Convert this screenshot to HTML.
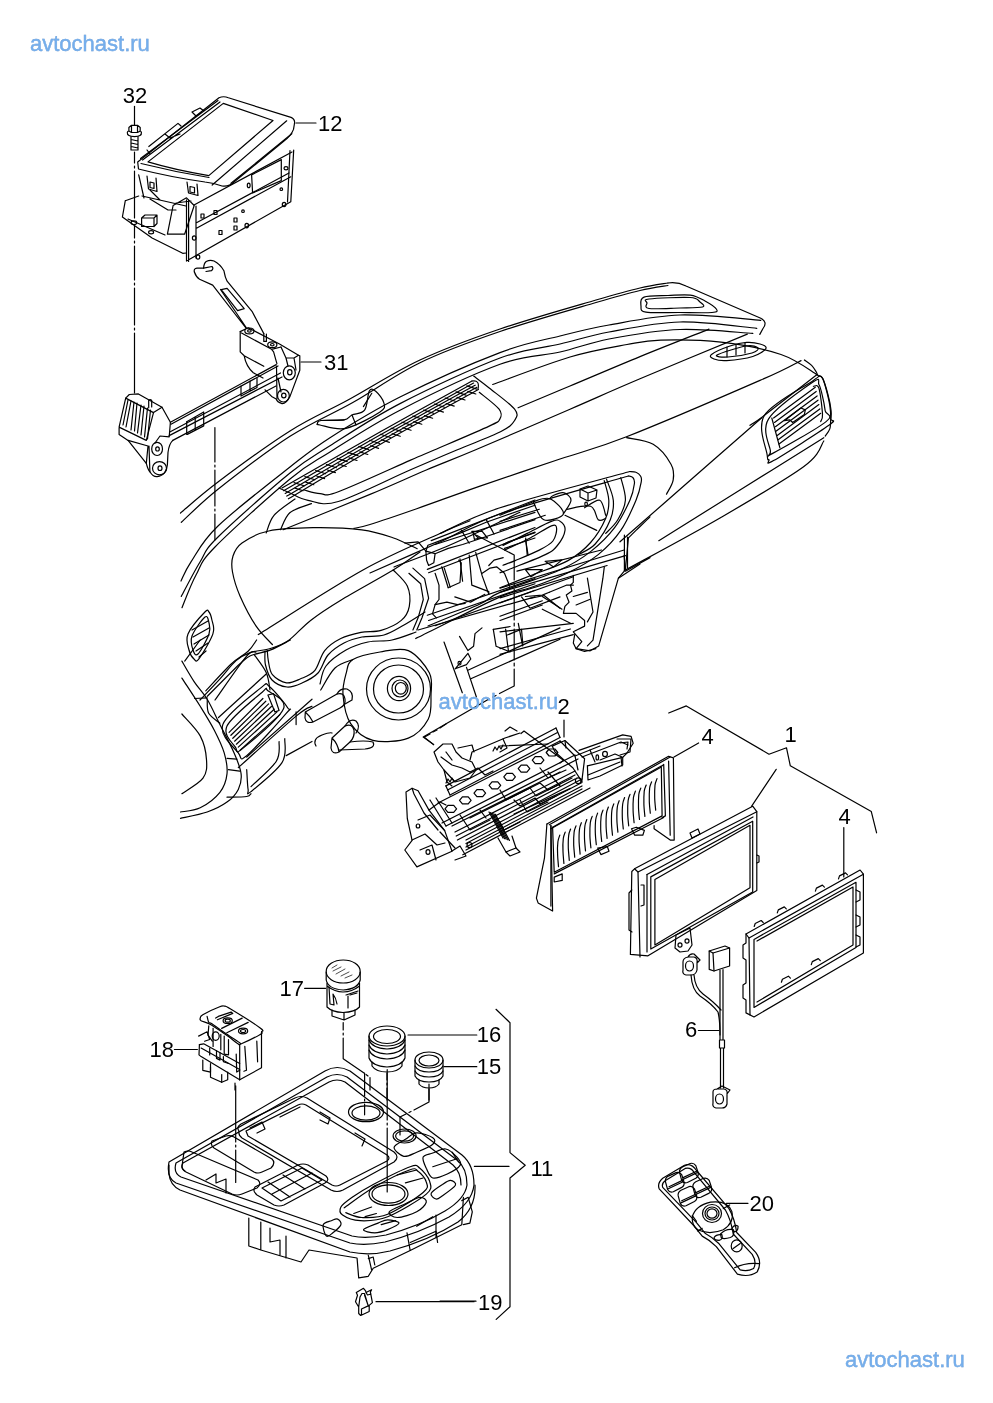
<!DOCTYPE html>
<html><head><meta charset="utf-8">
<style>
html,body{margin:0;padding:0;background:#fff;width:993px;height:1403px;overflow:hidden}
svg{position:absolute;left:0;top:0;will-change:transform}
.wm{font-family:"Liberation Sans",sans-serif;font-size:22px;fill:#74aeec;stroke:#4a80c4;stroke-width:0.35px;paint-order:stroke}
.lb{font-family:"Liberation Sans",sans-serif;font-size:22px;fill:#000}
</style></head><body>
<svg width="993" height="1403" viewBox="0 0 993 1403">
<g fill="none" stroke="#000" stroke-width="1.2" stroke-linejoin="round" stroke-linecap="round">
<path d="M296,123 H316 M301,362 H321 M564,720 V737 M698.6,743 L674,757 M843.8,827.5 V877 M304.6,988.3 H325.6 M174.4,1049.5 H197.4 M408,1035 H476.8 M444,1066.7 H476.8 M698.4,1030.5 H718.8 M474.4,1166.4 H509 M440,1301.2 H476 M726.4,1203.3 H748"/>
<path d="M668.7,713 L686.3,705.9 L769,754.2 L786.5,747.8 L790.3,765.8 L871.3,811.6 L876.6,832.8 M776.2,769.3 L751.5,806.3"/>
<!-- component 12 -->
<path d="M137.7,162 L219,97.7 Q223.5,95.8 228.4,97.7 L291,117.4 Q295.5,119.5 294.4,124 L293.5,129.4 Q291,136 284,141 L234,182 Q229,187 222,186 Q214,183 205,182 Q170,177 138.5,169 Z"/>
<path d="M148,161.9 L223.3,103.4 L273,120.5 L208.8,175.6 Q175,170 148,161.9"/>
<path d="M141,163.5 Q175,172 209,177.5 M212.2,185 L286.7,120.8 M231,183.3 L291.8,133.7"/>
<path d="M140.5,158.5 L218,100.5 M142.5,160 L220,102 M148.8,146.5 L178,123.4 L181,126 M165,134 L170,138 L180,134 M192,112 L200,108 L204,111 L196,116 Z M147,150 L150,154"/>
<path d="M138.7,174.9 L144,198 M186.5,199.8 V261 M188.6,200 V261.5 M186.5,261 L290.8,201.7 M293.7,150 L290.8,201.7 M290,150.5 L287.5,202"/>
<path d="M196,228.5 L290.8,176.8 M196,223 L289,173 M194,205 L292,152 M196,206 V258"/>
<path d="M251.6,174.9 L281.3,159.6 V180.6 L252.6,193 Z"/>
<path d="M173.1,205.5 L186.5,197.8 L194.2,205.5 L184.6,234.2 L167.4,234.2 Z M173.1,205.5 L167.4,234.2 M176,203 L191,201"/>
<path d="M125.3,200.7 L138.7,196 M122.4,217 L125.3,200.7 M122.4,217 L152.1,238 L182.7,253.3 L186.5,253 M128,219 L165,235"/>
<path d="M141.6,218 H154 V226.5 H141.6 Z M141.6,218 L145,215 H157 L154,218 M157,215 V223.5 L154,226.5"/>
<path d="M142,196 L186,206 M150,190 L160,200 M150,199 L168,210 L176,210"/>
<path d="M147,176 L148.5,189 L157,191.5 L156,178 M150,182 L154,183 V188.5 L150,187.5 Z M187,182 L188.5,193 L198,195.5 L197,184 M190,186.5 L194.5,187.5 V193 L190,192 Z"/>
<ellipse cx="133.9" cy="222.7" rx="2.8" ry="1.8"/>
<ellipse cx="151.1" cy="232.3" rx="2.5" ry="1.6"/>
<path d="M201,214 h3 v4 h-3z M214,210.5 h3 v4 h-3z M234,218 h3 v4 h-3z M234,226 h3 v4 h-3z M219,230.5 h3 v4 h-3z"/>
<ellipse cx="243" cy="211.2" rx="1.3" ry="1.3"/><ellipse cx="194.2" cy="238" rx="1.8" ry="2.2"/><ellipse cx="246.8" cy="225.6" rx="1.8" ry="2.2"/><ellipse cx="284.1" cy="204.5" rx="1.8" ry="2.2"/><ellipse cx="286" cy="168.2" rx="2" ry="1.6"/><ellipse cx="248.7" cy="185.4" rx="1.4" ry="2.2"/><ellipse cx="281.3" cy="189.2" rx="1.3" ry="1.3"/><ellipse cx="198" cy="257" rx="1.8" ry="2.2"/>
<!-- bolt 32 -->
<path d="M134.5,106.4 V125"/>
<path d="M128.9,127.5 L131.5,125.3 H137.5 L140.2,127.5 V131 L137.5,132.5 H131.5 L128.9,131 Z M131.5,125.3 V132.5 M137.5,125.3 V132.5 M127.3,132.5 Q127,136.4 134.5,136.6 Q142,136.4 141.4,132.5 Q141,131 140.2,131 M127.3,132.5 Q127.5,131 128.9,131"/>
<path d="M131,136.6 V150 H138 V136.6 M131,139.5 L138,141 M131,143 L138,144.5 M131,146.5 L138,148"/>
<path d="M134.5,152 V163 M134.5,166 V168 M134.5,171 V218 M134.5,226 V238 M134.5,241 V243 M134.5,246 V280 M134.5,283 V285 M134.5,288 V325 M134.5,328 V330 M134.5,333 V393"/>
<!-- wrench + bracket 31 -->
<path d="M194.4,272 Q193.5,268.5 197,268.1 L203.6,268.1 Q204,263 206.2,261.5 Q210,259.5 214,261 Q220,264 223.9,270.7 L224.5,273.3 Q225,277 227.1,281.2 L252,311.3 L263.8,333.6"/>
<path d="M203.6,268.1 L212,266.5 Q214,268.5 211.4,270.7 L206,271.5"/>
<path d="M194.4,272 Q196,277 199.6,279.2 L212.7,285.1 L245.5,327.5 M220.5,289.5 L246.5,328"/>
<path d="M221.2,289.7 L227.1,288.4 L244.2,308.7 L237.6,310.6 Z"/>
<path d="M240.2,331.6 L248.1,327.7 L279.5,344 L298.5,355.2 L299.8,355.8 V370.2 L290,396.4 Q286,404 282,403.6 Q277,402 276.2,399 L271.6,396.4 L265.1,389.8"/>
<path d="M240.2,331.6 V351.9 L244.2,355.8 L263.8,366.3 M244.2,355.8 Q246,366 253.3,372.8 L263,378 M241.5,333 L271.6,349.3 L281,347 M273.6,351.9 L276.9,363.7 M271.6,349.3 L273.6,351.9"/>
<path d="M281,347 L286,358 L288,366 M298.5,355.2 L294,358 L296,370 M286,358 L294,358"/>
<ellipse cx="249.4" cy="330.9" rx="4.6" ry="2.9"/><ellipse cx="249.4" cy="330.9" rx="1.8" ry="1.2"/>
<ellipse cx="272.3" cy="344.7" rx="4.6" ry="2.9"/><ellipse cx="272.3" cy="344.7" rx="1.8" ry="1.2"/>
<path d="M263.8,333.6 V341.4 H266.4 V334"/>
<ellipse cx="289.3" cy="372.8" rx="6" ry="7"/><ellipse cx="289.8" cy="372.3" rx="2.2" ry="2.6"/>
<ellipse cx="283.4" cy="395.7" rx="5.9" ry="6.3"/><ellipse cx="283.8" cy="395.5" rx="2.2" ry="2.4"/>
<path d="M278,378 L281,392 M276.5,366 L277,399"/>
<path d="M170.4,422.3 L276.2,364.6 M171,424.3 L278,366 M169.8,432 L280.5,373 M169.2,435.6 L282,377 M172.8,440.4 L276,386"/>
<path d="M186.7,421.7 L203.7,412 M187.3,434.4 L203.7,425.9 M186.7,421.7 V434.4 M203.7,412 V425.9 M195.2,417 V430 M241,396 V386 M250,391 V381 M257,387.5 V378 M241,396 L257,387.5"/>
<path d="M125.7,398.1 L129.3,394.5 L138.4,393.9 L162,407.2 L153.5,412.6 Z"/>
<path d="M125.7,398.1 L119.1,427.1 L119.1,434.4 L128.1,440.4 L146.3,463.4 Q148,470 149.9,471.8 Q153,477 157.1,476.7 Q162,476 164.4,473 Q167,470 167.4,464.6 L168,452.5 Q169,444 172.8,440.4 M119.1,427.1 L146.3,440.4 L153.5,412.6 M162,407.2 L170.4,422.3 L169.2,436.8 L160,436 L155,443"/>
<path d="M128,400 L123,425 M131,401 L126,427 M134,402 L131,430 M137,403 L134.5,431 M141,405 L137.5,433 M144,406 L141,435 M147.5,408 L144.5,437 M150.5,410 L147.5,439"/>
<path d="M128.1,440.4 L148,446 L146.3,463.4 M149,446 L149.9,471.8"/>
<ellipse cx="157.1" cy="448.9" rx="5.4" ry="6.6"/><ellipse cx="157.5" cy="448.9" rx="1.8" ry="2.1"/>
<ellipse cx="159.5" cy="468.2" rx="7" ry="6.6"/><ellipse cx="160" cy="468.2" rx="2" ry="2.3"/>
<path d="M148.7,407.8 V400.5 Q150.2,399 151.7,400.5 V407"/>
<path d="M214.9,427.5 V462 M214.9,465 V467 M214.9,470 V506 M214.9,509 V511 M214.9,514 V540"/>
<path d="M180.5,513.0 C186.8,507.8 199.8,495.7 218.0,482.0 C236.2,468.3 268.3,444.7 290.0,431.0 C311.7,417.3 326.3,411.8 348.0,400.0 C369.7,388.2 394.7,371.8 420.0,360.0 C445.3,348.2 470.7,339.0 500.0,329.0 C529.3,319.0 572.7,306.8 596.0,300.0 C619.3,293.2 628.0,290.8 640.0,288.0 C652.0,285.2 663.3,283.8 668.0,283.0"/>
<path d="M181.3,522.3 C187.5,516.8 200.2,503.3 218.3,489.0 C236.4,474.7 267.6,450.7 290.0,436.3 C312.4,421.9 331.1,414.8 352.8,402.5 C374.5,390.2 395.5,374.5 420.0,362.7 C444.5,350.9 470.7,341.5 500.0,331.5 C529.3,321.5 572.7,309.3 596.0,302.5 C619.3,295.7 628.0,293.3 640.0,290.5 C652.0,287.7 663.3,286.3 668.0,285.5"/>
<path d="M668,283 Q677,281.5 686,286 L760.8,318.3 Q768,322 763,328.5 L759.8,334.4"/>
<path d="M644.0,297.1 C648.5,295.4 660.3,295.8 668.0,295.5 C675.7,295.2 684.2,294.2 690.4,295.1 C696.6,296.0 700.6,298.6 705.0,301.0 C709.4,303.4 715.3,307.3 716.5,309.2 C717.7,311.1 718.1,311.9 712.0,312.5 C705.9,313.1 691.0,312.6 680.0,312.5 C669.0,312.4 652.5,313.3 646.0,312.2 C639.5,311.1 641.3,308.5 641.0,306.0 C640.7,303.5 639.5,298.9 644.0,297.1Z"/>
<path d="M649.0,299.0 C656.2,298.1 681.5,297.0 690.0,297.5 C698.5,298.0 697.9,300.4 700.0,302.0 C702.1,303.6 705.8,306.0 702.5,307.0 C699.2,308.0 688.9,307.8 680.0,308.0 C671.1,308.2 654.5,309.3 649.0,308.5 C643.5,307.7 647.0,304.6 647.0,303.0 C647.0,301.4 641.8,299.9 649.0,299.0Z"/>
<path d="M181.0,581.0 C182.7,577.8 184.8,571.0 191.0,561.8 C197.2,552.6 201.5,541.8 218.0,526.0 C234.5,510.2 271.3,481.7 290.0,467.0 C308.7,452.3 311.7,449.4 330.0,437.7 C348.3,426.0 371.7,411.2 400.0,397.0 C428.3,382.8 473.3,362.8 500.0,352.6 C526.7,342.4 541.8,340.6 560.0,336.0 C578.2,331.4 589.0,328.5 609.0,325.0 C629.0,321.5 654.7,315.8 680.0,315.0 C705.3,314.2 747.3,319.4 760.8,320.3"/>
<path d="M181.3,596.4 C184.4,590.7 193.9,571.9 200.0,562.0 C206.1,552.1 203.0,551.8 218.0,537.0 C233.0,522.2 271.3,488.2 290.0,473.0 C308.7,457.8 311.7,457.4 330.0,445.8 C348.3,434.2 371.7,418.2 400.0,403.6 C428.3,389.0 473.3,367.9 500.0,358.0 C526.7,348.1 541.8,348.3 560.0,344.0 C578.2,339.7 589.0,335.7 609.0,332.0 C629.0,328.3 655.4,322.6 680.0,322.0 C704.6,321.4 744.0,327.2 756.8,328.3"/>
<path d="M182.0,607.7 C184.3,602.2 190.5,585.1 196.0,575.0 C201.5,564.9 199.3,563.0 215.0,547.0 C230.7,531.0 270.8,494.8 290.0,479.0 C309.2,463.2 311.7,463.5 330.0,452.0 C348.3,440.5 371.7,424.8 400.0,410.2 C428.3,395.6 473.3,374.0 500.0,364.3 C526.7,354.6 541.8,356.2 560.0,352.0 C578.2,347.8 589.0,342.8 609.0,339.0 C629.0,335.2 656.0,330.4 680.0,329.5 C704.0,328.6 740.7,332.8 752.8,333.4"/>
<path d="M282.0,488.0 C298.3,478.7 348.3,449.8 380.0,432.0 C411.7,414.2 456.7,389.5 472.0,381.0"/>
<path d="M283.6,490.7 C299.7,481.4 348.3,453.0 380.0,435.1 C411.7,417.2 458.0,391.8 473.6,383.1"/>
<path d="M285.2,493.4 C301.0,484.2 348.3,456.2 380.0,438.2 C411.7,420.2 459.3,394.0 475.2,385.2"/>
<path d="M286.8,496.1 C302.3,487.0 348.3,459.4 380.0,441.3 C411.7,423.2 460.7,396.3 476.8,387.3"/>
<path d="M288.4,498.8 C303.7,489.7 348.3,462.6 380.0,444.4 C411.7,426.2 462.0,398.6 478.4,389.4"/>
<path d="M317.5,423.5 C317.7,422.8 316.6,421.1 321.0,420.5 C325.4,419.9 338.8,420.8 344.0,419.9 C349.2,419.0 348.6,416.6 352.0,415.0 C355.4,413.4 361.7,414.2 364.6,410.2 C367.5,406.2 367.5,394.0 369.4,390.9 C371.3,387.8 373.6,389.5 376.0,391.5 C378.4,393.5 383.2,399.6 383.9,403.0 C384.6,406.4 386.3,407.8 380.0,412.0 C373.7,416.2 356.0,426.1 346.0,428.3 C336.0,430.5 324.8,425.8 320.0,425.0 C315.2,424.2 317.3,424.2 317.5,423.5Z"/>
<path d="M473.7,376.1 C476.3,378.1 482.4,382.5 489.2,388.0 C496.0,393.5 510.4,403.8 514.6,409.2 C518.8,414.6 517.0,416.7 514.6,420.5 C512.2,424.3 510.1,426.9 500.5,431.8 C490.9,436.7 471.9,443.6 456.8,450.0 C441.7,456.4 429.8,461.4 410.0,470.0 C390.2,478.6 355.3,496.4 338.3,501.5 C321.3,506.6 316.1,501.7 308.0,500.3 C299.9,498.9 294.8,495.1 290.0,493.0 C285.2,490.9 280.8,488.8 279.0,488.0"/>
<path d="M479.3,392.3 C482.6,395.1 495.7,404.7 499.1,409.2 C502.5,413.7 501.5,416.3 499.8,419.1 C498.1,421.9 500.1,421.0 489.2,426.1 C478.3,431.2 447.4,444.3 434.2,450.0 C421.0,455.7 426.0,453.4 410.0,460.4 C394.0,467.4 353.3,486.2 338.3,491.8 C323.3,497.4 325.9,494.0 320.2,493.7 C314.5,493.4 306.7,490.6 304.0,490.0"/>
<path d="M492.7,384.5 C505.6,379.9 547.6,363.7 570.0,357.0 C592.4,350.3 611.9,347.3 627.0,344.5 C642.1,341.7 645.0,340.5 660.7,340.1 C676.4,339.7 701.0,339.8 721.0,342.2 C741.0,344.6 765.0,349.1 781.0,354.5 C797.0,359.9 811.2,371.3 817.2,374.7"/>
<path d="M518.1,407.8 C526.8,404.2 549.7,394.5 570.0,386.0 C590.3,377.5 616.8,366.1 640.0,356.6 C663.2,347.1 697.5,333.7 709.0,329.1"/>
<path d="M283.2,529.7 C297.7,523.8 346.1,504.3 370.0,494.4 C393.9,484.4 408.8,477.4 426.3,470.0 C443.8,462.6 451.2,460.1 475.1,450.0 C499.1,439.9 542.5,421.1 570.0,409.2 C597.5,397.3 610.5,391.3 640.0,378.8 C669.5,366.3 729.4,341.6 747.3,334.1"/>
<path d="M353.9,528.4 C356.6,527.8 359.5,527.8 370.0,524.5 C380.5,521.2 398.4,515.1 416.7,508.7 C435.0,502.3 456.1,494.4 480.0,486.1 C503.9,477.8 535.6,467.2 560.0,459.0 C584.4,450.8 593.2,449.9 626.5,436.8 C659.8,423.7 730.9,393.1 760.0,380.4 C789.1,367.7 794.2,363.9 801.0,360.6"/>
<path d="M472,381 Q480,379.5 478,389"/>
<path d="M294.0,482.6 l10,3.2 M295.0,488.1 l8,2.6 M304.8,476.6 l10,3.2 M305.8,482.1 l8,2.6 M315.6,470.5 l10,3.2 M316.6,476.0 l8,2.6 M326.4,464.5 l10,3.2 M327.4,470.0 l8,2.6 M337.2,458.4 l10,3.2 M338.2,463.9 l8,2.6 M348.0,452.4 l10,3.2 M349.0,457.9 l8,2.6 M358.8,446.4 l10,3.2 M359.8,451.9 l8,2.6 M369.6,440.3 l10,3.2 M370.6,445.8 l8,2.6 M380.4,434.3 l10,3.2 M381.4,439.8 l8,2.6 M391.2,428.2 l10,3.2 M392.2,433.7 l8,2.6 M402.0,422.2 l10,3.2 M403.0,427.7 l8,2.6 M412.8,416.1 l10,3.2 M413.8,421.6 l8,2.6 M423.6,410.1 l10,3.2 M424.6,415.6 l8,2.6 M434.4,404.0 l10,3.2 M435.4,409.5 l8,2.6 M445.2,398.0 l10,3.2 M446.2,403.5 l8,2.6 M456.0,391.9 l10,3.2 M457.0,397.4 l8,2.6 M466.8,385.9 l10,3.2 M467.8,391.4 l8,2.6 M352,415 L356,425 M363.4,406.6 L371.8,393.3 M321,420.5 L344,419.9"/><path d="M272.4,644.5 C269.7,641.5 261.7,634.4 256.3,626.4 C250.9,618.4 244.1,605.3 240.1,596.2 C236.1,587.1 233.7,578.7 232.5,572.0 C231.3,565.3 231.4,560.8 233.0,556.0 C234.6,551.2 236.1,547.2 242.0,543.0 C247.9,538.8 256.9,533.5 268.7,531.0 C280.5,528.5 297.5,527.9 313.0,527.7 C328.5,527.5 348.5,528.2 361.8,529.9 C375.1,531.6 383.6,534.6 392.8,537.7 C402.0,540.8 413.1,546.9 417.2,548.7"/>
<path d="M266.2,533.0 C267.5,530.0 269.2,521.0 274.0,515.3 C278.8,509.6 291.5,501.7 295.0,499.0"/>
<path d="M280.6,529.7 C282.1,526.9 284.7,517.1 289.8,512.7 C294.9,508.4 307.8,505.1 311.4,503.6"/>
<path d="M258.3,634.5 C275.8,623.8 332.7,586.8 363.0,570.0 C393.3,553.2 422.2,541.7 440.0,533.5 C457.8,525.3 465.0,522.9 470.0,520.8"/>
<path d="M200.0,700.0 C203.3,696.5 214.0,685.4 220.0,678.8 C226.0,672.2 231.1,665.0 236.1,660.6 C241.1,656.2 244.5,654.6 250.2,652.6 C255.9,650.6 264.0,650.5 270.4,648.5 C276.8,646.5 281.8,645.2 288.5,640.5 C295.2,635.8 301.9,627.1 310.6,620.4 C319.3,613.7 327.0,608.6 340.8,600.2 C354.6,591.8 380.0,578.0 393.2,570.0 C406.4,562.0 415.5,555.0 420.0,552.0"/>
<path d="M393.2,570.0 C395.6,572.7 404.6,580.1 407.3,586.1 C410.0,592.1 410.3,600.6 409.3,606.3 C408.3,612.0 406.0,616.4 401.3,620.4 C396.6,624.4 387.8,628.4 381.1,630.4 C374.4,632.4 367.7,631.0 361.0,632.4 C354.3,633.8 346.9,635.5 340.8,638.5 C334.8,641.5 329.1,645.2 324.7,650.6 C320.3,656.0 318.7,666.0 314.7,670.7 C310.7,675.4 305.3,676.8 300.6,678.8 C295.9,680.8 291.2,683.5 286.5,682.8 C281.8,682.1 275.4,678.4 272.4,674.7 C269.4,671.0 269.1,664.6 268.3,660.6 C267.5,656.6 267.5,652.3 267.3,650.6"/>
<path d="M265.0,651.0 C265.1,653.3 264.3,660.2 265.5,665.0 C266.7,669.8 268.4,676.3 272.0,680.0 C275.6,683.7 282.0,686.5 287.0,687.0 C292.0,687.5 296.8,685.3 302.0,683.0 C307.2,680.7 313.7,677.7 318.0,673.0 C322.3,668.3 323.7,660.0 328.0,655.0 C332.3,650.0 338.3,646.0 344.0,643.0 C349.7,640.0 355.3,638.3 362.0,637.0 C368.7,635.7 377.0,637.0 384.0,635.0 C391.0,633.0 397.2,628.8 404.0,625.0 C410.8,621.2 421.5,614.2 425.0,612.0"/>
<path d="M320.0,684.0 C321.0,681.0 321.7,671.7 326.0,666.0 C330.3,660.3 339.0,654.0 346.0,650.0 C353.0,646.0 360.3,643.7 368.0,642.0 C375.7,640.3 384.0,641.7 392.0,640.0 C400.0,638.3 412.0,633.3 416.0,632.0"/>
<path d="M254.2,654.6 C256.2,657.6 263.7,666.8 266.3,672.7 C268.9,678.6 269.4,687.1 270.0,690.0"/>
<path d="M215.0,700.0 C220.2,692.8 239.4,664.6 246.2,656.6 C253.0,648.6 254.4,652.8 256.0,652.0"/>
<path d="M346.3,672.8 C347.9,666.9 347.3,663.0 352.9,659.5 C358.5,656.0 370.8,653.5 380.0,652.0 C389.2,650.5 400.1,647.1 408.3,650.6 C416.5,654.1 425.5,665.4 429.3,672.8 C433.1,680.2 431.2,687.2 431.0,695.0 C430.8,702.8 432.0,712.1 428.2,719.3 C424.4,726.5 417.5,734.6 408.3,738.1 C399.1,741.6 382.5,742.8 372.9,740.4 C363.3,738.0 355.7,731.3 350.7,723.7 C345.7,716.1 343.7,703.5 343.0,695.0 C342.3,686.5 344.7,678.7 346.3,672.8Z"/>
<path d="M320.7,690.0 C323.1,686.3 329.6,673.1 335.0,668.0 C340.4,662.9 349.9,660.9 352.9,659.5"/>
<ellipse cx="398.5" cy="689.0" rx="32.0" ry="31.0"/>
<ellipse cx="398.5" cy="689.0" rx="25.0" ry="24.0"/>
<ellipse cx="399.0" cy="688.5" rx="11.6" ry="12.2"/>
<ellipse cx="400.0" cy="688.5" rx="8.0" ry="8.5"/>
<ellipse cx="400.8" cy="688.3" rx="5.5" ry="5.8"/>
<path d="M305.3,712 L337,694 Q344,692 345,699 Q346,705 340,708 L313,722 Q306,724 305,718 Z M313,722 Q310,716 305.3,712"/>
<path d="M337,694 Q340,688 347,689 Q354,692 352,700 L345,704"/>
<path d="M332,738 L345,726 Q352,723 354,730 Q355,737 350,742 L339,752 Q332,755 331,748 Z M339,752 Q338,744 332,738"/>
<path d="M345,726 Q350,718 356,721 Q361,726 356,733"/>
<path d="M316,746 Q312,739 322,735 Q330,732 332,733 M350,742 Q365,740 373,742 Q376,748 365,749 L339,750"/>

<path d="M440.0,533.5 C450.0,529.2 468.4,518.1 500.0,507.8 C531.6,497.5 608.2,477.6 629.9,471.5"/>
<path d="M629.9,471.5 C630.9,471.6 634.2,471.5 636.0,472.3 C637.7,473.0 639.6,474.4 640.5,476.0 C641.4,477.7 642.0,478.1 641.2,482.1 C640.5,486.1 639.4,492.2 636.0,500.2 C632.6,508.3 627.1,521.4 620.8,530.4 C614.6,539.5 607.0,547.5 598.2,554.6 C589.4,561.6 579.3,567.2 568.0,572.7 C556.6,578.3 541.5,583.8 530.2,587.8 C518.9,591.9 517.3,589.3 500.0,596.9 C482.7,604.5 440.2,626.4 426.2,633.3 C412.1,640.2 417.4,637.6 415.7,638.5"/>
<path d="M370.0,573.0 C381.7,567.8 418.3,551.8 440.0,542.0 C461.7,532.2 468.6,525.0 500.0,514.0 C531.4,503.0 607.0,482.3 628.4,476.0"/>
<path d="M394.0,567.0 C403.3,563.3 429.0,554.1 450.0,545.0 C471.0,535.9 508.3,517.8 520.0,512.3"/>
<path d="M628.4,476.0 C629.2,476.3 631.9,476.3 632.9,477.6 C633.9,478.8 634.9,479.8 634.4,483.6 C633.9,487.4 633.2,492.9 629.9,500.2 C626.6,507.5 621.3,518.8 614.8,527.4 C608.3,536.0 599.7,544.5 590.6,551.6 C581.6,558.6 575.5,562.9 560.4,569.7 C545.3,576.5 513.4,586.6 500.0,592.4 C486.6,598.1 492.0,598.4 480.0,604.0 C468.0,609.6 436.7,622.3 428.0,626.0"/>
<path d="M604.2,480.6 C605.0,483.8 608.5,493.9 608.8,500.2 C609.0,506.5 608.8,511.3 605.7,518.3 C602.7,525.4 596.9,535.5 590.6,542.5 C584.3,549.6 578.0,555.1 568.0,560.6 C557.9,566.2 541.5,571.2 530.2,575.7 C518.9,580.3 505.0,585.8 500.0,587.8"/>
<path d="M606.5,479.1 C607.6,482.6 612.7,493.4 613.3,500.2 C613.9,507.0 613.3,512.5 610.3,519.8 C607.3,527.2 600.5,538.2 595.2,544.0 C589.9,549.8 581.3,552.8 578.5,554.6"/>
<path d="M620.8,477.6 C621.6,481.3 625.9,493.2 625.4,500.2 C624.9,507.3 621.1,514.3 617.8,519.8 C614.6,525.4 607.8,531.2 605.7,533.4"/>
<path d="M503.0,545.5 C507.0,543.5 519.1,537.5 527.2,533.4 C535.2,529.4 545.8,523.4 551.4,521.4 C556.9,519.3 558.2,519.8 560.4,521.4 C562.7,522.9 565.5,526.4 565.0,530.4 C564.5,534.5 560.7,541.5 557.4,545.5 C554.1,549.6 552.9,550.8 545.3,554.6 C537.8,558.4 519.6,565.2 512.1,568.2 C504.5,571.2 502.0,572.0 500.0,572.7"/>
<path d="M504.5,550.1 C508.8,548.0 522.4,542.0 530.2,538.0 C538.0,533.9 547.0,527.5 551.4,525.9 C555.8,524.3 556.4,525.6 556.6,528.2 C556.9,530.7 555.8,537.3 552.9,541.0 C550.0,544.6 545.6,546.8 539.3,550.1 C533.0,553.3 521.1,558.1 515.1,560.6 C509.1,563.2 505.0,564.4 503.0,565.2"/>
<path d="M525.7,538.0 L527.2,554.6"/>
<path d="M533.2,501.7 C536.0,501.2 544.8,496.7 549.8,498.7 C554.9,500.7 564.5,510.3 563.4,513.8 C562.4,517.3 548.8,521.9 543.8,519.8 C538.8,517.8 535.0,504.7 533.2,501.7"/>
<path d="M549.8,498.7 C550.4,498.2 550.6,496.7 552.9,495.7 C555.1,494.7 560.4,491.9 563.4,492.7 C566.5,493.4 571.0,496.7 571.0,500.2 C571.0,503.7 564.7,511.5 563.4,513.8"/>
<path d="M565.0,515.3 L596.7,530.4"/>
<path d="M566.5,509.3 C570.5,508.8 585.3,504.5 590.6,506.3 C595.9,508.0 595.7,517.8 598.2,519.8 C600.7,521.9 604.5,518.6 605.7,518.3"/>
<path d="M584.6,507.8 C587.1,506.5 596.2,499.0 599.7,500.2 C603.2,501.5 604.7,512.8 605.7,515.3"/>
<path d="M500.0,515.3 L533.2,501.7"/>
<path d="M500.0,521.4 L539.3,509.3"/>
<path d="M500.0,530.4 L545.3,515.3"/>
<path d="M628.4,538.0 L625.4,569.7"/>
<path d="M650.0,516.8 C647.7,519.1 639.6,526.9 636.0,530.4 C632.4,533.9 629.7,536.7 628.4,538.0"/>
<path d="M650.0,557.6 L625.4,571.2"/>
<path d="M431.2,540.6 L535.0,500.0"/>
<path d="M435.1,544.5 L535.0,512.4"/>
<path d="M425.9,551.1 L427.9,545.2 L435.1,542.6 L462.6,532.1 L486.2,522.3 L535.0,505.2"/>
<path d="M425.9,551.1 L426.6,560.2 L428.6,565.5 L433.8,562.8 L435.1,553.7 L425.9,551.1"/>
<path d="M435.1,553.7 L448.2,548.4 L462.6,544.5 L478.3,539.3 L535.0,519.6"/>
<path d="M427.3,569.4 L535.0,527.5"/>
<path d="M428.6,572.7 L535.0,532.1"/>
<path d="M427.3,615.2 L535.0,578.6"/>
<path d="M428.6,620.5 L535.0,583.8"/>
<path d="M435.1,625.7 L535.0,590.3"/>
<path d="M418.1,630.0 L535.0,596.9"/>
<path d="M412.9,568.1 L424.6,578.6 L428.6,598.2 L422.0,617.8 L416.8,630.0"/>
<path d="M408.9,573.3 L420.7,583.8 L423.3,599.5 L418.1,617.8 L412.9,630.0"/>
<path d="M435.1,573.3 L439.0,585.1 L439.0,599.5 L435.1,604.7 L432.5,613.9 L436.4,617.8"/>
<path d="M441.7,566.8 L448.2,587.7"/>
<path d="M444.3,568.1 L450.2,587.1"/>
<path d="M448.2,587.7 L460.0,582.5 L461.3,562.8 L458.7,560.2"/>
<path d="M460.0,558.9 L462.6,581.2"/>
<path d="M469.2,555.0 L471.8,585.1 L488.8,591.6 L488.8,594.3"/>
<path d="M475.7,552.4 L482.2,575.9 L488.8,594.3"/>
<path d="M482.2,573.3 L490.1,568.1 L496.6,566.8 L504.5,573.3 L509.7,586.4"/>
<path d="M488.8,565.5 L494.0,560.2 L503.2,557.6"/>
<path d="M454.8,596.9 L470.5,602.1 L484.9,594.3"/>
<path d="M435.1,604.7 L446.9,602.1 L457.4,604.7 L465.2,603.4"/>
<path d="M461.3,530.1 L469.2,543.2"/>
<path d="M486.2,519.6 L494.0,534.0"/>
<path d="M471.8,531.4 L482.2,531.4 L487.5,538.0 L478.3,538.0 L471.8,531.4"/>
<path d="M473.1,532.7 L474.4,539.3 L479.6,538.0"/>
<path d="M503.2,544.5 L508.4,541.9 L535.0,532.7"/>
<path d="M504.5,548.4 L535.0,538.0"/>
<path d="M525.5,539.3 L528.1,555.0"/>
<path d="M405.0,543.2 L418.1,541.9 L425.9,551.1"/>
<path d="M467.9,670.2 L560.0,627.9"/>
<path d="M470.8,678.7 L560.0,639.2"/>
<path d="M493.3,629.3 L496.1,646.3 L510.2,651.9"/>
<path d="M493.3,629.3 L510.2,626.5"/>
<path d="M507.4,635.0 L521.5,629.3 L522.9,644.9"/>
<path d="M444.0,642.0 L462.3,692.8"/>
<path d="M466.5,667.4 L476.4,697.0"/>
<path d="M455.2,668.8 L467.9,653.3 L470.8,659.0 L466.5,664.6 L455.2,668.8"/>
<path d="M459.5,636.4 L467.9,650.5 L473.6,646.3 L475.0,633.6 L482.0,627.9"/>
<path d="M530.0,598.3 L544.1,595.5 L560.0,608.2"/>
<path d="M521.5,596.9 L530.0,608.2 L560.0,596.9"/>
<path d="M516.9,571.1 L601.5,550.0"/>
<path d="M500.0,588.1 L624.1,550.0"/>
<path d="M500.0,592.3 L625.5,555.6"/>
<path d="M500.0,597.9 L607.1,565.5"/>
<path d="M500.0,602.9 L573.3,576.8"/>
<path d="M500.0,616.3 L542.3,600.8"/>
<path d="M500.0,620.5 L542.3,605.0"/>
<path d="M573.3,575.4 L573.3,582.4 L570.5,585.2 L571.9,590.9 L566.3,595.1 L569.1,602.2 L564.9,606.4 L563.4,613.4 L576.1,613.4 L584.6,620.5 L584.6,626.1 L573.3,631.8 L581.8,641.6 L576.1,648.7 L584.6,651.5 L595.9,648.7"/>
<path d="M500.0,631.8 L573.3,623.3"/>
<path d="M500.0,648.7 L570.5,629.0"/>
<path d="M500.0,654.3 L573.3,634.6"/>
<path d="M624.1,555.6 L625.5,569.7 L618.4,578.2 L598.7,645.9 L590.2,650.8 L576.1,648.7 L573.3,643.0 L574.7,634.6"/>
<path d="M604.3,566.9 L602.9,578.2 L593.0,640.2 L587.4,645.9"/>
<path d="M587.4,578.2 L593.0,612.0 L587.4,621.9"/>
<path d="M640.0,564.1 L618.4,578.2"/>
<path d="M542.3,609.2 L570.5,623.3"/>
<path d="M542.3,596.5 L562.0,609.2"/>
<path d="M549.3,592.3 L566.3,585.2 L573.3,585.2"/>
<path d="M525.4,596.5 L542.3,595.1 L549.3,592.3"/>
<path d="M545.1,561.3 L562.0,559.9 L553.6,566.9 L545.1,561.3"/>
<path d="M525.4,569.7 L542.3,569.7 L531.0,576.8 L525.4,569.7"/>
<path d="M518.3,623.3 L522.6,645.9"/>
<path d="M505.6,629.0 L508.5,651.5"/>
<path d="M573.3,596.5 L587.4,592.3"/>
<path d="M576.1,605.0 L590.2,599.3"/>
<ellipse cx="459.5" cy="663.2" rx="1.5" ry="1.8"/>
<ellipse cx="586.1" cy="504.0" rx="1.3" ry="1.8"/>
<path d="M580,489 l8,-3 l9,4 l-1,8 l-8,3 l-8,-4 z M580,489 l8,4 v8 M588,493 l9,-3"/>
<path d="M476.5,535.3 L514.2,555 V580 M514.2,583 V586 M514.2,589 V620 M514.2,623 V626 M514.2,629 V660 M514.2,663 V666 M514.2,669 V686 L499.5,693.5 M496,695.5 L493,697 M489,699 L423.2,737.1 L433.6,744.6"/>
<path d="M626.6,437.7 C631.0,438.8 645.8,439.9 653.2,444.3 C660.6,448.7 667.7,458.3 671.0,464.2 C674.3,470.1 674.0,474.8 673.2,479.8 C672.5,484.8 667.6,491.8 666.5,494.2"/>
<path d="M620.0,541.8 C631.7,531.6 666.4,501.2 690.0,480.5 C713.6,459.8 749.8,428.2 761.8,417.7"/>
<path d="M658.8,540.7 C672.3,532.2 712.5,507.2 740.0,490.0 C767.5,472.8 809.8,446.4 823.8,437.7"/>
<path d="M624.4,570.6 C640.3,561.8 690.1,535.4 720.0,518.0 C749.9,500.6 786.6,479.3 803.9,466.5 C821.2,453.7 820.5,445.2 823.8,441.0"/>
<path d="M624.4,535.0 L624.4,570.6"/>
<path d="M627.5,537.0 L627.5,568.0"/>
<path d="M804.4,360.0 C805.6,360.9 809.7,363.5 811.6,365.4 C813.6,367.4 815.2,370.2 816.2,371.8 C817.1,373.4 817.3,374.4 817.5,375.0"/>
<path d="M750.0,425.3 C752.4,423.6 753.3,423.7 764.5,415.3 C775.7,406.8 808.3,381.3 817.1,374.5"/>
<path d="M817.1,375.0 C818.0,375.5 820.7,374.9 822.5,378.1 C824.3,381.4 826.5,389.0 827.9,394.4 C829.4,399.9 830.7,406.5 831.1,410.8 C831.6,415.0 830.9,416.8 830.7,419.8 C830.4,422.8 830.7,426.2 829.8,428.9 C828.9,431.6 826.0,434.9 825.2,436.1"/>
<path d="M764.5,415.3 C772.2,402.8 804.4,386.9 813.4,380.4 C822.5,373.9 817.4,376.7 818.9,376.3 C820.4,375.9 821.3,376.0 822.5,378.1 C823.7,380.2 824.9,384.5 826.1,389.0 C827.3,393.5 829.0,400.3 829.8,405.3 C830.5,410.3 830.8,415.6 830.7,418.9 C830.5,422.2 838.4,418.3 828.9,425.3 C819.3,432.2 783.5,454.9 773.6,460.6 C763.6,466.3 770.1,460.6 769.0,459.7 C768.0,458.8 768.0,462.6 767.2,455.2 C766.5,447.8 756.8,427.8 764.5,415.3Z"/>
<path d="M768.6,418.9 C775.8,407.4 805.1,387.5 813.4,381.8 C821.8,376.0 817.4,382.1 818.9,384.5 C820.4,386.9 821.5,391.9 822.5,396.3 C823.6,400.6 824.6,406.5 825.2,410.8 C825.8,415.0 834.9,414.5 826.1,421.6 C817.4,428.7 781.9,448.5 772.7,453.4 C763.4,458.2 771.1,456.4 770.4,450.6 C769.7,444.9 761.4,430.4 768.6,418.9Z"/>
<path d="M771.8,418.0 L779.9,447.9"/>
<path d="M813.4,386.3 C814.4,386.6 817.4,383.4 818.9,388.1 C820.4,392.8 822.2,408.8 822.5,414.4 C822.8,420.0 821.0,420.4 820.7,421.6"/>
<path d="M711.5,354.5 C714.2,352.3 724.1,348.0 730.0,346.0 C735.9,344.0 741.7,342.7 746.7,342.4 C751.7,342.1 756.8,343.0 760.0,344.0 C763.2,345.0 767.1,346.4 765.9,348.5 C764.7,350.6 759.3,354.5 752.8,356.5 C746.2,358.5 733.1,360.2 726.6,360.6 C720.1,361.0 716.5,360.0 714.0,359.0 C711.5,358.0 708.8,356.7 711.5,354.5Z"/>
<path d="M717.0,355.0 C720.0,353.2 739.2,347.2 746.0,346.0 C752.8,344.8 757.0,346.8 758.0,348.0 C759.0,349.2 757.0,351.5 752.0,353.0 C747.0,354.5 733.8,356.7 728.0,357.0 C722.2,357.3 714.0,356.8 717.0,355.0Z"/>
<path d="M773.6,418.0 L815.3,387.2 M774.5,422.4 L816.2,391.5 M775.4,426.7 L817.1,395.9 M776.3,431.1 L818.0,400.2 M777.2,435.4 L818.9,404.6 M778.1,439.8 L819.8,408.9 M779.0,444.1 L820.7,413.3"/>
<path d="M784.4,420.7 L789.9,419.8 L792.6,422.5 L804.4,414.4 L805.3,409.9 L800.8,408.0 L784.4,420.7"/>
<path d="M727,357 V347 M736,355 V345 M745,353 V343"/><path d="M181.9,661.1 C184.0,664.7 190.3,676.0 194.6,682.3 C198.8,688.6 203.0,692.2 207.2,699.2 C211.5,706.3 215.5,715.7 219.9,724.6 C224.4,733.5 230.5,744.6 234.0,752.8 C237.6,761.0 240.4,767.8 241.1,773.9 C241.8,780.0 240.6,784.7 238.3,789.4 C235.9,794.1 232.2,798.4 227.0,802.1 C221.8,805.9 215.0,809.3 207.2,812.0 C199.5,814.7 184.9,817.3 180.5,818.3"/>
<path d="M181.9,678.1 C184.9,682.8 194.8,697.6 200.2,706.3 C205.6,715.0 210.3,722.5 214.3,730.2 C218.3,738.0 222.0,745.5 224.2,752.8 C226.3,760.1 227.7,767.4 227.0,773.9 C226.3,780.5 224.4,786.6 219.9,792.3 C215.5,797.9 206.8,804.5 200.2,807.8 C193.6,811.1 183.7,811.3 180.5,812.0"/>
<path d="M181.9,714.0 C184.9,717.7 196.1,728.2 200.2,735.9 C204.3,743.5 206.1,752.8 206.5,759.8 C207.0,766.9 207.1,772.5 203.0,778.2 C198.9,783.8 185.4,791.1 181.9,793.7"/>
<path d="M194.6,698.5 L207.2,697.8"/>
<path d="M207.2,699.2 C207.5,701.6 206.5,709.3 208.7,713.3 C210.8,717.3 218.1,721.5 219.9,723.2"/>
<path d="M227.0,758.4 L236.9,759.1"/>
<path d="M228.4,769.7 L239.7,771.1"/>
<path d="M227.0,797.2 C230.3,797.1 242.7,797.1 246.7,796.5 C250.7,795.9 250.2,794.1 251.0,793.7"/>
<path d="M246.7,769.7 C247.0,773.0 247.4,785.8 248.1,789.4 C248.8,793.1 245.3,796.0 251.0,791.6 C256.6,787.1 276.3,771.5 282.0,762.7 C287.6,753.8 284.3,742.7 284.8,738.7"/>
<path d="M251.0,786.6 C255.2,782.4 271.6,768.8 276.3,761.2 C281.0,753.7 278.7,744.8 279.1,741.5"/>
<path d="M222.8,724.6 C226.5,713.8 253.1,694.3 260.8,687.9 C268.6,681.6 264.8,683.2 269.3,686.5 C273.7,689.8 284.8,703.2 287.6,707.7 C290.4,712.1 293.0,705.3 286.2,713.3 C279.4,721.3 254.7,749.0 246.7,755.6 C238.7,762.2 242.3,758.0 238.3,752.8 C234.3,747.6 219.0,735.4 222.8,724.6Z"/>
<path d="M227.0,726.0 C231.4,716.8 255.4,698.0 262.2,692.2 C269.0,686.3 264.3,687.9 267.9,690.8 C271.4,693.6 287.6,699.4 283.4,709.1 C279.1,718.7 250.5,742.2 242.5,748.6 C234.5,754.9 238.0,750.9 235.4,747.1 C232.9,743.4 222.5,735.2 227.0,726.0Z"/>
<path d="M218.5,717.5 L266.5,673.8"/>
<path d="M207.2,696.4 C212.7,691.0 232.4,670.8 239.7,664.0 C247.0,657.2 245.8,657.9 251.0,655.5 C256.1,653.2 264.1,652.5 270.7,649.9 C277.3,647.3 287.1,641.6 290.4,640.0"/>
<path d="M205.8,690.8 C210.1,686.3 224.2,670.5 231.2,664.0 C238.3,657.4 243.9,655.3 248.1,651.3 C252.4,647.3 255.2,641.9 256.6,640.0"/>
<path d="M184.7,661.1 L200.2,640.0"/>
<path d="M246.7,757.0 L312.0,699.2"/>
<path d="M238.3,767.6 C247.9,759.0 283.8,726.4 296.1,716.1 C308.4,705.9 309.3,707.9 312.0,706.3"/>
<path d="M286.2,755.6 L312.0,741.5"/>
<path d="M296.1,711.9 L296.1,724.6"/>
<path d="M188.0,633.9 C190.7,627.6 201.4,615.6 204.9,612.0 C208.4,608.4 207.8,610.7 209.0,612.0 C210.2,613.3 211.2,616.4 211.9,620.0 C212.6,623.6 215.1,627.4 212.9,633.9 C210.7,640.4 202.1,654.7 198.9,658.9 C195.8,663.1 195.7,660.5 194.0,659.0 C192.3,657.5 190.0,654.2 189.0,650.0 C188.0,645.8 185.3,640.2 188.0,633.9Z"/>
<path d="M192.0,636.0 C194.0,630.5 202.2,619.2 205.0,617.0 C207.8,614.8 208.3,620.2 209.0,623.0 C209.7,625.8 210.8,628.8 209.0,634.0 C207.2,639.2 200.7,651.3 198.0,654.0 C195.3,656.7 194.0,653.0 193.0,650.0 C192.0,647.0 190.0,641.5 192.0,636.0Z"/>
<path d="M229.1,732.3 L262.9,698.5 M230.9,735.3 L265.8,701.2 M232.8,738.3 L268.6,703.9 M234.6,741.2 L271.4,706.5 M236.4,744.2 L274.2,709.2 M238.3,747.1 L277.0,711.9 M240.1,750.1 L279.9,714.6"/>
<path d="M267.9,695.0 L273.5,693.6 L279.1,710.5 L274.9,711.9 Z"/>
<path d="M192,630 L208,621 M193,637 L209,628 M194,644 L209,635 M196,651 L208,643 M199,657 L206,651"/><path d="M445.9,785.9 L556.0,728.0"/>
<path d="M447.5,790.0 L557.5,732.5"/>
<path d="M450.0,795.0 L560.0,737.5"/>
<path d="M445.9,785.9 L450.0,795.0"/>
<path d="M556.0,728.0 L560.0,737.5"/>
<path d="M438.0,803.0 L560.0,741.0"/>
<path d="M442.0,823.0 L575.0,755.0"/>
<path d="M446.0,826.0 L578.0,759.0"/>
<path d="M466.0,840.0 L582.0,779.0"/>
<path d="M466.0,843.5 L582.0,782.5"/>
<path d="M466.0,847.0 L582.0,786.0"/>
<path d="M466.0,850.0 L582.0,789.0"/>
<path d="M462.8,854.8 L590.0,788.0"/>
<path d="M440.0,832.0 L455.0,848.0"/>
<path d="M452.0,826.0 L560.0,772.0"/>
<path d="M470.0,818.0 L540.0,783.0 L548.0,790.0 L572.0,778.0"/>
<path d="M514.0,814.0 L570.5,788.4"/>
<path d="M514.0,800.0 L520.0,806.0 L535.0,798.0 L540.0,804.0 L556.0,796.0"/>
<path d="M500.0,822.0 L504.0,830.0 L520.0,822.0"/>
<path d="M548.0,772.0 L560.0,786.0"/>
<path d="M480.0,810.0 L486.0,818.0"/>
<path d="M489.0,812.0 L503.0,838.0"/>
<path d="M490.6,812.6 L504.6,838.6"/>
<path d="M492.2,813.2 L506.2,839.2"/>
<path d="M493.8,813.8 L507.8,839.8"/>
<path d="M495.4,814.4 L509.4,840.4"/>
<path d="M498.0,838.0 L506.0,852.0 L516.0,848.0 L512.0,836.0"/>
<path d="M506.0,852.0 L510.0,856.0 L520.0,852.0 L516.0,848.0"/>
<path d="M406.0,792.0 L412.1,788.3 L418.1,790.8 L429.0,810.1 L444.7,830.6 L452.0,851.2 L416.9,866.9 L404.8,850.0 L412.1,840.3 L407.3,818.5 Z"/>
<path d="M412.1,788.3 L414.0,794.0 L424.0,813.0 L438.0,830.0"/>
<path d="M418.0,820.0 L430.0,815.0 L444.7,830.6"/>
<path d="M412.0,840.0 L425.0,834.0 L437.0,845.0 L445.0,843.0"/>
<path d="M420.0,850.0 L432.0,845.0 L436.0,860.0"/>
<path d="M429.0,810.1 L440.0,802.0 L446.0,805.0"/>
<path d="M579.0,750.4 L622.7,734.9 L631.1,736.3 L633.2,743.3 L627.0,753.0 L622.7,757.4 L587.4,765.9"/>
<path d="M582.0,757.0 L621.0,742.0 L628.0,745.0"/>
<path d="M617.0,739.0 L631.0,739.0 L630.0,752.0 L620.0,755.0"/>
<path d="M620.0,743.0 L628.0,742.0 L627.0,749.0"/>
<path d="M587.4,765.9 L588.0,780.0 L600.0,776.0 L622.7,765.0 L622.7,757.4"/>
<path d="M621.0,757.0 L622.0,766.0"/>
<path d="M552.2,746.1 L564.9,740.5 L584.6,758.8 L581.8,781.4"/>
<path d="M552.2,746.1 L555.0,752.0 L573.0,768.0 L581.8,781.4"/>
<path d="M564.9,740.5 L566.0,748.0"/>
<path d="M521.0,733.5 L524.0,731.0 L563.4,760.2 L560.0,763.0"/>
<path d="M500.0,746.0 L548.0,744.0"/>
<path d="M470.0,760.0 L472.0,752.0 L505.0,738.0 L520.0,733.0"/>
<path d="M503.0,739.0 L507.0,748.0 L500.0,752.0"/>
<path d="M505.0,731.0 L510.0,727.0 L517.0,731.0"/>
<path d="M434.0,752.0 L443.0,744.0 L452.0,744.0 L456.0,752.0 L462.0,758.0 L472.0,762.0 L476.0,770.0 L470.0,778.0 L455.0,782.0 L444.0,770.0 L438.0,762.0 Z"/>
<path d="M441.0,757.0 L452.0,765.0 L462.0,768.0 L470.0,772.0"/>
<path d="M446.0,752.0 L452.0,760.0"/>
<path d="M444.0,770.0 L447.0,782.0 L452.0,786.0"/>
<path d="M458.0,748.0 L472.0,745.0 L474.0,752.0"/>
<path d="M446.0,783.0 L448.0,779.0 L450.0,782.0 L452.0,778.0 L454.0,781.0"/>
<path d="M493.0,751.0 L495.0,747.0 L497.0,750.0 L499.0,746.0 L501.0,749.0 L503.0,745.0"/>
<path d="M455.0,832.0 L575.0,771.0"/>
<path d="M456.2,836.0 L575.0,775.0"/>
<path d="M457.4,840.0 L575.0,779.0"/>
<path d="M430.0,800.0 L446.0,826.0"/>
<path d="M436.0,798.0 L452.0,823.0"/>
<path d="M500.0,790.0 L506.0,800.0 L530.0,788.0 L536.0,796.0 L560.0,784.0"/>
<path d="M520.0,800.0 L527.0,812.0 L548.0,802.0"/>
<path d="M540.0,768.0 L548.0,778.0 L566.0,770.0"/>
<path d="M460.0,815.0 L470.0,830.0 L490.0,820.0"/>
<path d="M470.0,772.0 L478.0,768.0 L485.0,775.0 L493.0,771.0"/>
<path d="M560.0,741.0 L575.0,756.0 L590.0,750.0 L600.0,746.0"/>
<path d="M575.0,756.0 L578.0,770.0"/>
<path d="M590.0,750.0 L595.0,762.0"/>
<path d="M600.0,760.0 L615.0,754.0 L622.0,757.0"/>
<path d="M588.0,775.0 L620.0,762.0"/>
<path d="M452.0,851.0 L460.0,846.0 L466.0,856.0 L455.0,860.0"/>
<path d="M456.6,808.9 L453.7,812.4 L447.9,812.4 L445.0,808.9 L447.9,805.4 L453.7,805.4 Z"/>
<path d="M471.1,800.4 L468.2,803.9 L462.4,803.9 L459.5,800.4 L462.4,796.9 L468.2,796.9 Z"/>
<path d="M485.6,793.2 L482.7,796.7 L476.9,796.7 L474.0,793.2 L476.9,789.7 L482.7,789.7 Z"/>
<path d="M500.7,785.3 L497.8,788.8 L492.0,788.8 L489.1,785.3 L492.0,781.8 L497.8,781.8 Z"/>
<path d="M515.4,776.8 L512.5,780.3 L506.7,780.3 L503.8,776.8 L506.7,773.3 L512.5,773.3 Z"/>
<path d="M529.8,768.7 L526.9,772.2 L521.1,772.2 L518.2,768.7 L521.1,765.2 L526.9,765.2 Z"/>
<path d="M543.9,760.2 L541.0,763.7 L535.2,763.7 L532.3,760.2 L535.2,756.7 L541.0,756.7 Z"/>
<path d="M557.8,752.5 L554.9,756.0 L549.1,756.0 L546.2,752.5 L549.1,749.0 L554.9,749.0 Z"/>
<ellipse cx="418.0" cy="826.0" rx="1.8" ry="2.0"/>
<ellipse cx="428.0" cy="852.0" rx="2.0" ry="2.4"/>
<ellipse cx="469.5" cy="845.0" rx="2.5" ry="2.5"/>
<ellipse cx="578.2" cy="780.7" rx="2.8" ry="2.8"/>
<ellipse cx="597.3" cy="757.4" rx="1.3" ry="2.6"/>
<ellipse cx="605.0" cy="753.9" rx="2.4" ry="2.6"/>
<path d="M424.2,737.1 L433.6,744.6 M424.2,737.1 L430,734 M433,732 L437,730 M440,728 L446,724"/><path d="M546.9,824.0 L668.6,756.3 L673.4,757.9 L674.2,840.1 L670.2,840.1 L654.1,828.8 L654.1,825.6"/>
<path d="M546.9,824.0 L544.5,857.8 L536.4,898.1 L538.1,902.9 L552.6,911.0 L550.9,825.6"/>
<path d="M549.3,824.8 L670.2,757.1"/>
<path d="M552.6,827.2 L661.3,765.9 L662.1,815.9 L554.2,872.3 L552.6,827.2"/>
<path d="M550.9,828.8 L660.5,767.6"/>
<path d="M554.2,873.9 L663.7,817.5"/>
<path d="M662.1,765.9 L663.7,764.3 L665.4,815.9 L662.1,817.5"/>
<path d="M668.6,761.1 L670.2,835.2"/>
<path d="M550.9,825.6 L550.9,906.1"/>
<path d="M631.5,828.8 L636.3,827.2 L644.4,830.4 L642.8,835.2 L634.7,835.2 Z"/>
<path d="M597.7,848.1 L607.3,846.5 L609.0,851.3 L600.9,854.6 Z"/>
<path d="M554.2,877.1 L562.2,873.9 L562.2,880.4 L554.2,882.0 Z"/>
<path d="M559.8,835.2 C559.5,836.3 558.3,838.5 557.9,841.7 C557.5,844.9 557.4,850.4 557.6,854.6 C557.7,858.7 558.4,864.6 558.5,866.7 M565.2,832.1 C564.9,833.2 563.7,835.3 563.3,838.5 C562.9,841.8 562.8,847.3 563.0,851.4 C563.1,855.6 563.8,861.5 563.9,863.5 M570.6,829.0 C570.3,830.0 569.0,832.2 568.7,835.4 C568.3,838.6 568.2,844.1 568.3,848.3 C568.5,852.4 569.2,858.4 569.3,860.4 M576.0,825.8 C575.7,826.9 574.4,829.0 574.1,832.3 C573.7,835.5 573.6,841.0 573.7,845.1 C573.9,849.3 574.6,855.2 574.7,857.2 M581.4,822.7 C581.1,823.7 579.8,825.9 579.5,829.1 C579.1,832.3 579.0,837.8 579.1,842.0 C579.3,846.2 580.0,852.1 580.1,854.1 M586.8,819.5 C586.5,820.6 585.2,822.7 584.9,826.0 C584.5,829.2 584.4,834.7 584.5,838.9 C584.7,843.0 585.3,848.9 585.5,850.9 M592.2,816.4 C591.9,817.5 590.6,819.6 590.3,822.8 C589.9,826.1 589.8,831.6 589.9,835.7 C590.0,839.9 590.7,845.8 590.9,847.8 M597.6,813.2 C597.3,814.3 596.0,816.5 595.7,819.7 C595.3,822.9 595.2,828.4 595.3,832.6 C595.4,836.7 596.1,842.6 596.3,844.7 M603.0,810.1 C602.7,811.2 601.4,813.3 601.1,816.5 C600.7,819.8 600.6,825.3 600.7,829.4 C600.8,833.6 601.5,839.5 601.7,841.5 M608.4,807.0 C608.1,808.0 606.8,810.2 606.5,813.4 C606.1,816.6 606.0,822.1 606.1,826.3 C606.2,830.5 606.9,836.4 607.1,838.4 M613.8,803.8 C613.5,804.9 612.2,807.0 611.9,810.3 C611.5,813.5 611.4,819.0 611.5,823.2 C611.6,827.3 612.3,833.2 612.5,835.2 M619.2,800.7 C618.9,801.7 617.6,803.9 617.3,807.1 C616.9,810.3 616.8,815.8 616.9,820.0 C617.0,824.2 617.7,830.1 617.9,832.1 M624.6,797.5 C624.3,798.6 623.0,800.8 622.7,804.0 C622.3,807.2 622.2,812.7 622.3,816.9 C622.4,821.0 623.1,826.9 623.3,829.0 M630.0,794.4 C629.7,795.5 628.4,797.6 628.1,800.8 C627.7,804.1 627.6,809.6 627.7,813.7 C627.8,817.9 628.5,823.8 628.7,825.8 M635.4,791.2 C635.1,792.3 633.8,794.5 633.4,797.7 C633.1,800.9 633.0,806.4 633.1,810.6 C633.2,814.7 633.9,820.7 634.1,822.7 M640.8,788.1 C640.5,789.2 639.2,791.3 638.8,794.5 C638.5,797.8 638.4,803.3 638.5,807.4 C638.6,811.6 639.3,817.5 639.5,819.5 M646.2,785.0 C645.9,786.0 644.6,788.2 644.2,791.4 C643.9,794.6 643.8,800.1 643.9,804.3 C644.0,808.5 644.7,814.4 644.9,816.4 M651.6,781.8 C651.3,782.9 650.0,785.0 649.6,788.3 C649.3,791.5 649.2,797.0 649.3,801.2 C649.4,805.3 650.1,811.2 650.3,813.2 M657.0,778.7 C656.7,779.8 655.4,781.9 655.0,785.1 C654.7,788.3 654.6,793.9 654.7,798.0 C654.8,802.2 655.5,808.1 655.7,810.1"/>
<path d="M634.5,868.8 L752.7,806.2 L756.8,811.7 L756.8,890.5 L648.0,955.8 L630.4,954.4 L631.8,871.5 Z"/>
<path d="M634.5,868.8 L638.0,872.0 L756.8,811.7"/>
<path d="M638.0,872.0 L640.0,957.0"/>
<path d="M654.9,879.6 L750.0,825.3 L750.0,887.8 L654.9,944.9 Z"/>
<path d="M650.8,876.9 L752.7,821.2 L752.7,891.9 L650.8,949.0 Z"/>
<path d="M647.0,874.5 L753.0,817.0"/>
<path d="M647.0,874.5 L647.0,952.0"/>
<path d="M631.8,890.0 L629.0,893.0 L629.0,930.0 L632.0,932.0"/>
<path d="M641.0,885.0 L644.0,885.0 L644.0,905.0 L641.0,906.0"/>
<path d="M676.0,935.0 L690.0,928.0 L692.0,945.0 L688.0,951.0 L680.0,952.0 L675.0,948.0 Z"/>
<path d="M690.0,833.0 L698.0,829.0 L700.0,834.0 L692.0,838.0 Z"/>
<path d="M756.8,855.0 L759.0,856.0 L759.0,862.0 L756.8,863.0"/>
<ellipse cx="680" cy="945" rx="2" ry="2.2"/><ellipse cx="687" cy="941" rx="2" ry="2.2"/>
<path d="M746.0,934.0 L860.1,870.0 L863.4,874.2 L863.4,953.0 L754.0,1017.0 L746.0,1012.9 L746.0,1000.0 L743.0,998.0 L743.0,985.0 L746.0,983.0 L746.0,960.0 L743.0,958.0 L743.0,945.0 L746.0,943.0 Z"/>
<path d="M746.0,934.0 L749.0,938.0 L863.4,874.2"/>
<path d="M749.0,938.0 L750.0,1015.0"/>
<path d="M754.0,939.4 L856.0,882.3 L856.0,947.6 L754.0,1007.4 Z"/>
<path d="M757.0,941.0 L853.0,887.0 L853.0,945.0 L757.0,1002.0"/>
<path d="M754.2,926.5 L755.2,923.5 L761.2,920.5 L763.2,922.5"/>
<path d="M777.3,912.9 L778.3,909.9 L784.3,906.9 L786.3,908.9"/>
<path d="M815.4,891.1 L816.4,888.1 L822.4,885.1 L824.4,887.1"/>
<path d="M838.5,878.9 L839.5,875.9 L845.5,872.9 L847.5,874.9"/>
<path d="M781.4,982.2 L782.4,979.2 L788.4,976.2 L790.4,978.2"/>
<path d="M811.3,964.6 L812.3,961.6 L818.3,958.6 L820.3,960.6"/>
<path d="M856.0,890.0 L860.0,892.0 L860.0,900.0 L856.0,902.0"/>
<path d="M856.0,915.0 L860.0,917.0 L860.0,925.0 L856.0,927.0"/>
<path d="M856.0,935.0 L860.0,937.0 L860.0,945.0 L856.0,947.0"/>
<path d="M709.2,951.0 L725.0,946.0 L729.6,948.0 L729.6,966.0 L714.0,971.0 L709.2,969.4 Z"/>
<path d="M709.2,951.0 L713.0,953.0 L729.6,948.0"/>
<path d="M713.0,953.0 L714.0,971.0"/>
<path d="M720,970 V1040 M723,969.5 V1040 M719.5,1040 h5 v8 h-5 z M720.5,1048 V1088 M723.5,1048 V1088"/>
<path d="M691,975 Q692,990 700,996 Q712,1004 718,1012 Q720,1020 720,1035 M694,975 Q695,988 703,994 Q714,1002 721,1010"/>
<path d="M683,962 Q683,958 688,957 L694,957 Q698,958 697,963 L697,970 Q696,975 691,975 L686,975 Q682,974 683,970 Z M688,957 Q690,953 694,954 L700,960 L697,963"/>
<ellipse cx="689.5" cy="966" rx="4" ry="5"/>
<path d="M713,1092 Q713,1089 717,1089 L724,1089 Q728,1090 727,1094 L727,1104 Q726,1108 722,1108 L716,1108 Q712,1107 713,1103 Z M717,1089 L722,1086 L730,1090 L727,1094"/>
<ellipse cx="719.5" cy="1099" rx="4" ry="5"/>
<ellipse cx="343.2" cy="971.5" rx="17" ry="11.5"/>
<path d="M326.2,972 V980 Q328,989 343.2,990 Q358,989 360.2,980 V972"/>
<path d="M327,983 V1007 Q332,1012 343,1012.5 Q355,1012 359.5,1007 V983 M327,986 Q335,992 343,992 Q352,992 359.5,986"/>
<path d="M332,1010 V1016 L344,1020 L355,1015 V1010 M344,1013 V1020"/>
<path d="M329,987 L330,1004 L334,1005 L333,994 Q336,998 337,1004 M346,995 L358,991 M348,996 V1008 M350,995 L357,993"/>
<path d="M332,968 l5,-3 M333,971 l8,-4 M336,974 l9,-5 M341,976 l8,-4 M345,978 l7,-3" stroke-width="0.7"/>
<path d="M343.2,1022.5 V1030 M343.2,1033 V1035 M343.2,1038 V1058.8 L364,1073 M366,1074.5 L368,1076 M370,1077.5 V1090"/>
<path d="M200.3,1018.1 C200.6,1017.1 199.7,1016.5 202.8,1014.7 C206.0,1012.8 215.5,1008.4 219.1,1007.0 C222.7,1005.6 222.4,1005.8 224.2,1006.1 C226.1,1006.4 224.2,1005.1 230.2,1008.7 C236.2,1012.3 255.0,1024.1 260.2,1028.0 C265.4,1031.8 261.5,1030.7 261.5,1031.8 C261.5,1032.9 263.6,1032.4 260.2,1034.4 C256.9,1036.4 245.1,1042.2 241.4,1043.8 C237.7,1045.4 240.2,1045.1 237.9,1043.8 C235.7,1042.5 232.1,1039.2 227.7,1036.1 C223.2,1033.0 215.8,1027.5 211.4,1025.0 C207.0,1022.4 203.0,1021.8 201.1,1020.7 C199.3,1019.5 200.0,1019.1 200.3,1018.1Z"/>
<path d="M207.1,1016.4 C207.4,1017.4 208.0,1021.1 208.8,1022.4 C209.7,1023.7 209.1,1022.0 212.3,1024.1 C215.4,1026.2 223.0,1031.6 227.7,1034.8 C232.4,1038.0 238.4,1041.9 240.5,1043.4"/>
<path d="M221.7,1028.4 L242.2,1018.1"/>
<path d="M226.8,1032.7 L248.2,1022.4"/>
<path d="M215.7,1018.1 L218.3,1016.4 L231.1,1012.1 L232.8,1013.4 L217.4,1019.8"/>
<path d="M239.7,1044.7 L239.7,1079.8"/>
<path d="M261.5,1031.8 L261.5,1067.8 L239.7,1079.8"/>
<path d="M244.8,1046.4 L246.5,1070.3 L243.9,1071.2"/>
<path d="M256.8,1041.2 L257.6,1061.8"/>
<path d="M236.2,1054.1 L236.7,1072.1 L239.7,1070.3"/>
<path d="M199.4,1044.7 L199.0,1054.9 L201.1,1056.6 L239.7,1079.8"/>
<path d="M201.1,1048.1 L239.7,1069.5"/>
<path d="M199.4,1044.7 L203.7,1043.8 L239.7,1063.5"/>
<path d="M202.8,1060.1 L202.8,1070.3 L210.5,1072.1 L210.5,1063.5"/>
<path d="M210.5,1066.9 L210.5,1077.2 L221.7,1082.3 L227.7,1079.8 L227.7,1072.1"/>
<path d="M221.7,1074.6 L221.7,1082.3"/>
<path d="M198.6,1036.1 L207.1,1031.8 L209.7,1039.5 L204.6,1041.2"/>
<path d="M208.8,1025.8 L208.0,1035.2 L212.3,1041.2"/>
<path d="M213.1,1028.4 L213.1,1046.4"/>
<path d="M220.8,1034.4 L220.8,1049.8"/>
<path d="M209.7,1048.1 L209.7,1054.9"/>
<path d="M216.5,1050.7 L216.5,1058.4 L220.0,1060.1 L220.0,1052.4"/>
<path d="M223.4,1056.6 L223.4,1061.8 L228.5,1063.5"/>
<path d="M224.2,1036.1 L224.2,1054.1 L228.5,1054.9 L228.5,1039.5"/>
<ellipse cx="215.7" cy="1036.1" rx="3.5" ry="4.2"/>
<ellipse cx="227.7" cy="1020.7" rx="4.6" ry="2.8"/><ellipse cx="227.7" cy="1020.7" rx="2.6" ry="1.5"/>
<ellipse cx="243.1" cy="1031.0" rx="4.6" ry="2.8"/><ellipse cx="243.1" cy="1031.0" rx="2.6" ry="1.5"/>
<path d="M235,1083 V1090"/>
<path d="M176,1183 Q166,1178 169,1162 L325,1071 Q337,1064 350,1071 L462,1155 Q474,1165 474,1185 Q472,1203 449,1217 Q420,1233 385,1242 Q365,1246 350,1243 L176,1183 Z"/>
<path d="M181,1177 Q173,1173 176,1163 L327,1077 Q337,1072 347,1077 L457,1160 Q467,1168 467,1185 Q465,1199 445,1211 Q420,1226 386,1235 Q366,1239 352,1236 L181,1177 Z"/>
<path d="M169,1165 V1174 Q170,1185 180,1190 L350,1252 Q370,1256 390,1251 Q430,1240 458,1222 Q476,1208 475,1185"/>
<path d="M185,1171 Q180,1168 183,1163 L329,1082 Q337,1078 345,1082 L453,1165 Q461,1172 461,1185"/>
<path d="M239,1131 Q236,1127 241,1124 L295,1098 Q301,1095 307,1098 L394,1152 Q400,1157 394,1162 L343,1190 Q337,1193 331,1190 L242,1138 Q238,1135 239,1131 Z"/>
<path d="M246,1131 L298,1105 Q302,1103 306,1105 L387,1155 Q391,1158 387,1161 L340,1185 Q336,1187 332,1185 L248,1136 Z"/>
<path d="M250,1128 L262,1122 L265,1129 L257,1133 M320,1112 L330,1118 L328,1124 L320,1120 M355,1133 L365,1139 L362,1146 M280,1117 L300,1107"/>
<path d="M184,1152 Q188,1150 192,1152 L258,1180 Q262,1184 257,1188 L242,1194 Q237,1196 232,1194 L186,1172 Q182,1170 182,1166 Z"/>
<path d="M212,1141 L226,1136 Q230,1135 234,1137 L272,1159 Q276,1163 271,1168 L262,1172 Q258,1174 254,1172 L214,1148 Q210,1145 212,1141 Z"/>
<path d="M206,1180 L216,1174 V1183 L226,1179 V1193"/>
<path d="M255,1187 L298,1165 Q303,1163 308,1165 L326,1176 Q330,1180 325,1183 L284,1205 Q279,1207 274,1205 L257,1195 Q252,1191 255,1187 Z"/>
<path d="M262,1188 L302,1168 L322,1180 L281,1201 Z M272,1194 L312,1173 M268,1182 L290,1197 M283,1175 L305,1189"/>
<path d="M248.8,1218 V1246 L260.8,1250 L301,1262 L309,1250 L357,1258 M260.8,1222 V1250 M270,1228 V1242 L280,1240 V1255 M286,1236 V1258"/>
<ellipse cx="366" cy="1112" rx="17.5" ry="9.7"/><ellipse cx="366" cy="1113" rx="14" ry="7.2"/>
<ellipse cx="388.5" cy="1194" rx="19.5" ry="11.5"/><ellipse cx="388.5" cy="1194" rx="16.5" ry="9.2"/>
<ellipse cx="404.6" cy="1136" rx="11.5" ry="7"/><ellipse cx="404.6" cy="1136" rx="9" ry="5.2"/>
<path d="M235.7,1085.8 V1142 M235.7,1145 V1147 M235.7,1150 V1182.5 M387.2,1069.7 V1120 M387.2,1123 V1125 M387.2,1128 V1192 M364.6,1073 V1096 M364.6,1099 V1101 M364.6,1104 V1114.8 M429,1084 V1102 L414,1110 M411,1111.5 L409,1112.5 M406,1114 L400,1117 V1135"/>
<path d="M340.9,1207.0 C342.6,1204.1 346.9,1201.1 352.2,1197.3 C357.6,1193.6 363.5,1189.6 373.2,1184.5 C382.8,1179.4 402.4,1169.4 410.2,1166.7 C418.0,1164.0 416.7,1165.9 419.9,1168.3 C423.1,1170.8 428.5,1176.9 429.6,1181.2 C430.6,1185.5 433.3,1188.2 426.3,1194.1 C419.4,1200.0 398.7,1212.2 387.7,1216.7 C376.7,1221.1 367.8,1221.0 360.3,1220.7 C352.8,1220.4 345.8,1217.4 342.6,1215.1 C339.3,1212.8 339.3,1210.0 340.9,1207.0Z"/>
<path d="M344.2,1207.8 C349.0,1204.5 362.3,1194.0 373.2,1187.7 C384.1,1181.4 401.9,1172.6 409.4,1170.0 C416.9,1167.3 415.5,1169.5 418.3,1171.6 C421.1,1173.6 425.5,1178.5 426.3,1182.0 C427.2,1185.5 429.6,1187.1 423.1,1192.5 C416.7,1197.9 397.9,1210.1 387.7,1214.3 C377.5,1218.4 368.9,1217.8 361.9,1217.5 C354.9,1217.2 348.5,1213.5 345.8,1212.7"/>
<path d="M397.3,1174.8 L416.7,1170.0"/>
<path d="M405.4,1182.8 L423.1,1178.0"/>
<path d="M353.8,1213.5 L371.6,1207.0"/>
<path d="M365.1,1216.7 L376.4,1213.5"/>
<path d="M423.1,1157.1 C424.2,1154.5 429.0,1154.4 432.8,1153.0 C436.6,1151.7 441.7,1148.3 445.7,1149.0 C449.7,1149.7 454.5,1154.4 457.0,1157.1 C459.4,1159.7 461.8,1162.3 460.2,1165.1 C458.6,1167.9 451.9,1171.8 447.3,1174.0 C442.7,1176.1 436.3,1178.9 432.8,1178.0 C429.3,1177.1 428.0,1171.8 426.3,1168.3 C424.7,1164.8 422.1,1159.6 423.1,1157.1Z"/>
<path d="M432.8,1166.7 L457.0,1158.7"/>
<path d="M452.1,1152.2 L458.6,1161.9"/>
<path d="M431.2,1193.3 C432.3,1190.9 439.2,1186.6 442.5,1184.5 C445.7,1182.3 448.4,1180.3 450.5,1180.4 C452.7,1180.6 456.7,1182.7 455.4,1185.3 C454.0,1187.8 445.7,1193.5 442.5,1195.7 C439.2,1198.0 437.9,1199.4 436.0,1199.0 C434.1,1198.6 430.1,1195.7 431.2,1193.3Z"/>
<path d="M389.3,1211.8 C390.6,1209.6 400.3,1206.2 405.4,1203.8 C410.5,1201.4 416.4,1197.6 419.9,1197.3 C423.4,1197.1 426.9,1199.8 426.3,1202.2 C425.8,1204.6 421.5,1209.3 416.7,1211.8 C411.8,1214.4 401.9,1217.5 397.3,1217.5 C392.8,1217.5 387.9,1214.1 389.3,1211.8Z"/>
<path d="M363.5,1229.6 C364.0,1228.0 374.0,1224.7 378.0,1223.1 C382.0,1221.5 384.2,1219.9 387.7,1219.9 C391.2,1219.9 399.0,1221.5 399.0,1223.1 C399.0,1224.7 391.7,1228.0 387.7,1229.6 C383.6,1231.2 378.8,1232.8 374.8,1232.8 C370.8,1232.8 363.0,1231.2 363.5,1229.6Z"/>
<path d="M323.2,1224.7 C324.0,1222.2 328.9,1221.6 331.3,1220.7 C333.7,1219.8 336.1,1218.4 337.7,1219.1 C339.3,1219.8 341.8,1222.5 340.9,1224.7 C340.1,1227.0 335.3,1230.9 332.9,1232.8 C330.5,1234.7 328.1,1237.4 326.4,1236.0 C324.8,1234.7 322.4,1227.3 323.2,1224.7Z"/>
<path d="M394.1,1147.4 C394.4,1144.6 401.6,1141.8 405.4,1139.3 C409.2,1136.9 412.1,1133.2 416.7,1132.9 C421.2,1132.6 430.1,1135.8 432.8,1137.7 C435.5,1139.6 435.5,1141.8 432.8,1144.2 C430.1,1146.6 421.5,1150.2 416.7,1152.2 C411.8,1154.2 407.5,1157.1 403.8,1156.3 C400.0,1155.4 393.9,1150.2 394.1,1147.4Z"/>
<path d="M407.0,1232.8 L410.2,1250.5 L461.8,1224.7 L463.4,1197.3"/>
<path d="M357.1,1258.6 L358.7,1277.9 L368.3,1276.3 L373.2,1268.2 L410.2,1250.5"/>
<path d="M368.3,1255.4 L371.6,1269.9"/>
<path d="M410.2,1242.5 L436.0,1231.2 L437.6,1242.5"/>
<path d="M436.0,1215.1 L436.0,1237.6"/>
<path d="M461.8,1200.6 L468.2,1197.3 L472.3,1211.8 L469.9,1223.1 L463.4,1224.7"/>
<path d="M368.3,1258.6 L373.2,1257.0 L374.8,1265.0"/>
<path d="M416.7,1226.3 L432.8,1216.7"/>
<path d="M381.2,1224.7 L395.7,1220.7"/>
<path d="M369,1036 V1058 Q372,1066 387,1067 Q402,1066 405,1058 V1036"/>
<ellipse cx="387" cy="1036" rx="18" ry="10"/><ellipse cx="387" cy="1036.5" rx="13.5" ry="7"/>
<path d="M369,1045 Q372,1053 387,1054 Q402,1053 405,1045 M369,1050 Q372,1058 387,1059 Q402,1058 405,1050 M372,1062 V1066 Q376,1072 387,1072 Q398,1072 402,1066 V1062"/>
<path d="M369,1040 Q372,1048 387,1049 Q402,1048 405,1040"/>
<path d="M415,1060 V1076 Q418,1082 429,1082 Q440,1082 443,1076 V1060"/>
<ellipse cx="429" cy="1060" rx="14" ry="8"/><ellipse cx="429" cy="1060.5" rx="10" ry="5.5"/>
<path d="M415,1066 Q418,1072 429,1072 Q440,1072 443,1066 M415,1071 Q418,1077 429,1077 Q440,1077 443,1071 M419,1080 V1084 Q422,1088 429,1088 Q436,1088 439,1084 V1080"/>
<path d="M387,1073 V1080 M387,1083 V1085 M387,1088 V1100 M429,1089 V1100"/>
<path d="M496,1009.3 L510,1022.7 V1152.6 L525.2,1165.3 L510,1178 V1306.7 L496.2,1319.4"/>
<path d="M356.3,1292.5 L363.5,1288.3 L365.6,1290.9 L366,1292.5 M356.3,1292.5 L357.5,1295.3 L355.5,1301.8 L358.7,1307 V1313.5 L360.7,1315.5 L369.2,1311.5 V1305.4 L372.4,1302.6 L370.4,1292.1 L371.6,1289.7 L366,1292.5 M358.7,1307 L360,1297 L362,1293.5 L364.5,1293.5 L367.6,1304 M364.5,1295 L368,1305 M361.5,1309 L369.2,1305.4 M361.5,1309 V1315 M366,1292.5 L367.5,1295 L371,1294"/>
<path d="M376,1301.7 H474"/>
<path d="M659.2,1188.8 Q657.0,1183.2 662.7,1178.3 L684.5,1165.2 Q691.6,1162.8 696.5,1170.5 L729.0,1208.6 Q734.6,1218.4 736.7,1232.5 L755.7,1252.3 Q762.8,1262.1 757.1,1272.0 Q748.7,1277.7 737.4,1274.1 L716.3,1246.6 Q709.2,1239.6 702.2,1236.1 L693.7,1225.5 Z"/>
<path d="M662.7,1187.4 Q661.3,1183.2 665.5,1180.4 L685.2,1168.4 Q690.9,1167.0 693.7,1171.9 L725.4,1210.0 Q731.1,1219.9 733.2,1234.0 L752.2,1254.4 Q757.1,1262.1 753.6,1268.5 Q747.3,1272.0 740.2,1269.9 L719.1,1243.8 Q712.0,1236.8 705.0,1233.2 L696.5,1222.7 Z"/>
<path d="M734.6,1267.8 Q745.9,1262.1 759.3,1263.6"/>
<path d="M665.5,1181.8 Q664.8,1178.3 668.3,1176.1 L676.1,1172.6 Q679.6,1171.6 681.7,1174.7 L683.8,1181.1 Q685.2,1185.3 681.7,1187.4 L673.3,1191.7 Q669.7,1193.1 667.6,1189.5 Z"/>
<path d="M669.0,1186.7 L682.4,1180.4"/>
<path d="M668.3,1188.8 L683.1,1181.8"/>
<path d="M679.6,1172.6 Q678.9,1169.1 682.4,1167.0 L690.2,1163.5 Q693.7,1162.5 695.8,1165.6 L697.9,1171.9 Q699.3,1176.1 695.8,1178.3 L687.4,1182.5 Q683.8,1183.9 681.7,1180.4 Z"/>
<path d="M683.1,1177.6 L696.5,1171.2"/>
<path d="M682.4,1179.7 L697.2,1172.6"/>
<path d="M678.2,1195.9 Q677.5,1192.4 681.0,1190.2 L688.8,1186.7 Q692.3,1185.7 694.4,1188.8 L696.5,1195.2 Q697.9,1199.4 694.4,1201.5 L686.0,1205.8 Q682.4,1207.2 680.3,1203.6 Z"/>
<path d="M681.7,1200.8 L695.1,1194.5"/>
<path d="M681.0,1202.9 L695.8,1195.9"/>
<path d="M693.0,1187.4 Q692.3,1183.9 695.8,1181.8 L703.6,1178.3 Q707.1,1177.3 709.2,1180.4 L711.3,1186.7 Q712.7,1191.0 709.2,1193.1 L700.8,1197.3 Q697.2,1198.7 695.1,1195.2 Z"/>
<path d="M696.5,1192.4 L709.9,1186.0"/>
<path d="M695.8,1194.5 L710.6,1187.4"/>
<path d="M692.3,1217.0 Q695.1,1205.8 710.6,1202.2 Q727.5,1200.1 731.8,1211.4 Q734.6,1222.7 723.3,1229.7 Q709.2,1235.4 697.9,1229.7 Q691.6,1225.5 692.3,1217.0 Z"/>
<path d="M696.5,1221.3 L692.3,1215.6 M723.3,1208.6 L729.7,1205.0 M702.2,1228.3 L697.9,1231.1"/>
<path d="M714.1,1237.5 Q716.3,1234.0 721.9,1234.7 Q723.3,1239.6 719.1,1240.3 Q714.1,1240.3 714.1,1237.5 Z"/>
<path d="M720.5,1234.0 Q726.1,1228.3 733.2,1229.7 Q735.3,1235.4 730.4,1237.5 Q723.3,1239.6 721.2,1237.5 Z"/>
<path d="M731.8,1228.3 Q734.6,1224.1 738.1,1226.2 Q738.1,1231.1 734.6,1231.8 Z"/>
<ellipse cx="712.0" cy="1213.5" rx="9.5" ry="9.0"/>
<ellipse cx="712.0" cy="1213.5" rx="7.0" ry="6.5"/>
<ellipse cx="712.0" cy="1213.5" rx="5.0" ry="4.6"/>
<ellipse cx="736.7" cy="1245.9" rx="5.5" ry="6"/><path d="M733.2,1248.4 l7,-5"/></g>
<g class="lb">
<text x="122.8" y="102.9">32</text>
<text x="317.9" y="131">12</text>
<text x="324" y="369.8">31</text>
<text x="557.6" y="714.2">2</text>
<text x="701.5" y="743.6">4</text>
<text x="784.5" y="742.4">1</text>
<text x="838.6" y="824">4</text>
<text x="279.6" y="996">17</text>
<text x="149.5" y="1057">18</text>
<text x="476.7" y="1041.8">16</text>
<text x="476.7" y="1074.4">15</text>
<text x="685" y="1037.3">6</text>
<text x="530.5" y="1176">11</text>
<text x="749.5" y="1210.6">20</text>
<text x="478" y="1310.3">19</text>
</g>
<g class="wm">
<text x="30" y="50.5">avtochast.ru</text>
<text x="438.5" y="709">avtochast.ru</text>
<text x="845" y="1366.6">avtochast.ru</text>
</g>
</svg>
</body></html>
